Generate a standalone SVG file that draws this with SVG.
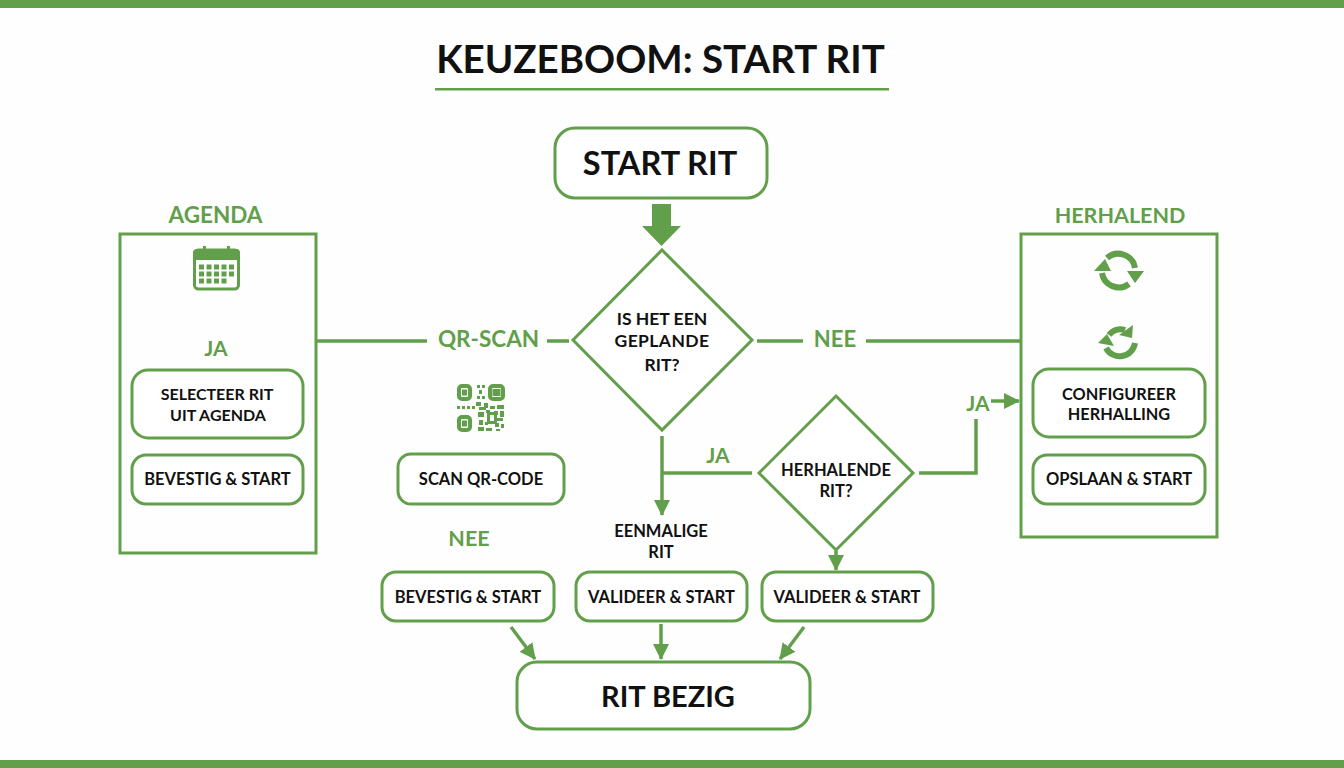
<svg xmlns="http://www.w3.org/2000/svg" width="1344" height="768" viewBox="0 0 1344 768">
<style>
text{font-family:Lato,"Liberation Sans",sans-serif;font-weight:700;text-anchor:middle}
.k{fill:#111}.g{fill:#629f4a}
.s{font-size:16.5px}.d{font-size:17.5px}.l{font-size:22.5px}
.n{fill:#fff;stroke:#629f4a;stroke-width:3}
.b{fill:none;stroke:#629f4a;stroke-width:3}
.c{fill:none;stroke:#629f4a;stroke-width:3.5}
.h{fill:#629f4a}
.q{fill:#629f4a}
.f{fill:none;stroke:#629f4a;stroke-width:4}
.r{fill:none;stroke:#629f4a;stroke-width:6}
</style>
<defs>
<marker id="a" markerUnits="userSpaceOnUse" markerWidth="18" markerHeight="16" refX="15" refY="8" orient="auto"><path d="M0 0L16 8L0 16z" fill="#629f4a"/></marker>
</defs>
<rect width="1344" height="768" fill="#fefefe"/>
<rect width="1344" height="8" fill="#629f4a"/>
<rect y="760" width="1344" height="8" fill="#629f4a"/>
<g id="title"><text x="660.500" y="73" font-size="38.500" class="k">KEUZEBOOM: START RIT</text><rect x="435" y="88" width="454" height="2.5" fill="#629f4a"/></g>
<g id="connectors">
<path class="c" d="M317 341H427M547 341H569M757 341H803M866 341H1021"/>
<path class="h" d="M652 204H671V226H681L661.500 246L642 226H652z"/>
<path class="c" d="M662 436V515" marker-end="url(#a)"/>
<path class="c" d="M663 473H752"/>
<path class="c" d="M919 473H976V419"/>
<path class="c" d="M991 401H1019" marker-end="url(#a)"/>
<path class="c" d="M836 551V570" marker-end="url(#a)"/>
<path class="c" d="M511 627L535 659" marker-end="url(#a)"/>
<path class="c" d="M661 624V659" marker-end="url(#a)"/>
<path class="c" d="M804 627L780 659" marker-end="url(#a)"/>
</g>
<g id="start"><rect class="n" x="555" y="128" width="212" height="70" rx="20"/><text x="660" y="175" font-size="32.500" class="k">START RIT</text></g>
<g id="agenda">
<text x="215.500" y="223" class="g" font-size="22.500">AGENDA</text>
<rect class="b" x="120" y="234" width="196" height="319"/>
<g id="calendar-icon"><rect x="194.500" y="250" width="44" height="39" rx="4" fill="#fff" stroke="#629f4a" stroke-width="3"/><path class="h" d="M193 253a4 4 0 0 1 4-4h6v-3h3v3h21v-3h3v3h6a4 4 0 0 1 4 4v7h-47z"/>
<path class="h" d="M199 264.500h5v5h-5zM206.500 264.500h5v5h-5zM214 264.500h5v5h-5zM221.500 264.500h5v5h-5zM229 264.500h5v5h-5zM199 271.500h5v5h-5zM206.500 271.500h5v5h-5zM214 271.500h5v5h-5zM221.500 271.500h5v5h-5zM229 271.500h5v5h-5zM199 278.500h5v5h-5zM206.500 278.500h5v5h-5zM214 278.500h5v5h-5zM221.500 278.500h5v5h-5z"/></g>
<text x="216" y="356" font-size="21" class="g">JA</text>
</g>
<g id="selecteer"><rect class="n" x="132" y="370" width="171" height="68" rx="16"/><text x="217" y="400" font-size="16" class="k">SELECTEER RIT</text><text x="218" y="421" font-size="16" class="k">UIT AGENDA</text></g>
<g id="bevestig1"><rect class="n" x="132" y="455" width="171" height="49" rx="14"/><text x="217.500" y="485" class="k s">BEVESTIG &amp; START</text></g>
<g id="qr">
<text x="488.500" y="347" class="g l">QR-SCAN</text>
<g id="qr-icon">
<rect class="f" x="459" y="386" width="11" height="13" rx="3"/><rect x="462" y="389.500" width="5" height="6" class="q"/>
<rect class="f" x="490" y="386" width="13" height="13" rx="3"/><rect x="492.500" y="389" width="8" height="7" class="q"/>
<rect class="f" x="459" y="417" width="11" height="13" rx="3"/><rect x="462" y="420.500" width="5" height="6" class="q"/>
<path class="q" d="M477 385h3v3h-3zM482 385h3v3h-3zM479 390h3v4h-3zM477 396h3v3h-3zM482 396h3v3h-3zM457 406h3v3h-3zM462 406h3v3h-3zM467 406h3v3h-3zM472 406h3v3h-3zM476 402h5v4h-5zM479 407h7v3h-7zM484 403h4v5h-4zM490 406h5v3h-5zM497 405h7v4h-7zM478 412h6v5h-6zM500 411h4v6h-4zM486 410h4v3h-4zM494 411h4v4h-4zM479 420h4v5h-4zM485 422h3v3h-3zM497 418h6v3h-6zM495 423h4v4h-4zM478 427h6v4h-6zM501 424h3v4h-3zM486 428h6v3h-6zM496 429h4v2h-4z"/><path class="q" fill-rule="evenodd" d="M487 412h10v12h-10zM490 415v6h4v-6z"/>
</g>
</g>
<g id="scan"><rect class="n" x="398" y="454" width="166" height="50" rx="13"/><text x="481" y="485" class="k s">SCAN QR-CODE</text></g>
<text x="469" y="546" font-size="21.500" class="g">NEE</text>
<g id="bevestig2"><rect class="n" x="382" y="572" width="172" height="49" rx="14"/><text x="468" y="603" class="k s">BEVESTIG &amp; START</text></g>
<g id="decision1"><path class="n" d="M662 250L752 340L662 430L573 340z"/><text x="662" y="325" class="k d">IS HET EEN</text><text x="662" y="347" class="k d" style="letter-spacing:.4px">GEPLANDE</text><text x="662" y="371" class="k d">RIT?</text></g>
<text x="835" y="347" class="g" font-size="22">NEE</text>
<text x="718" y="463" class="g" font-size="21">JA</text>
<g id="decision2"><path class="n" d="M836 396L913 473L836 550L759 473z"/><text x="836" y="476" class="k s">HERHALENDE</text><text x="836" y="497" class="k s">RIT?</text></g>
<text x="978" y="411" class="g" font-size="21">JA</text>
<g id="eenmalig"><text x="661" y="537" class="k s">EENMALIGE</text><text x="661" y="558" class="k s">RIT</text></g>
<g id="valideer1"><rect class="n" x="576" y="572" width="171" height="49" rx="14"/><text x="661.500" y="603" class="k s">VALIDEER &amp; START</text></g>
<g id="valideer2"><rect class="n" x="762" y="572" width="171" height="49" rx="14"/><text x="847" y="603" class="k s">VALIDEER &amp; START</text></g>
<g id="herhalend">
<text x="1120" y="222.500" class="g" font-size="21.500">HERHALEND</text>
<rect class="b" x="1021" y="234" width="196" height="303"/>
<g id="cycle-icon-1"><path class="r" d="M1107 258A17 17 0 0 1 1135 268M1129 284A17 17 0 0 1 1102 273"/><path class="h" d="M1094 271L1105 259L1111 271zM1127 271H1144L1135 283z"/></g>
<g id="cycle-icon-2"><path class="r" d="M1109 335A14 14 0 0 1 1125 330M1135 343A15.500 15.500 0 0 1 1106 348"/><path class="h" d="M1133 325L1132 338L1119 335zM1098 343L1107 334L1114 346z"/></g>
</g>
<g id="configureer"><rect class="n" x="1033" y="369" width="172" height="68" rx="16"/><text x="1119" y="400" class="k" font-size="16.300">CONFIGUREER</text><text x="1119" y="420" class="k" font-size="16.300">HERHALLING</text></g>
<g id="opslaan"><rect class="n" x="1033" y="455" width="172" height="49" rx="14"/><text x="1119" y="485" class="k s">OPSLAAN &amp; START</text></g>
<g id="bezig"><rect class="n" x="517" y="662" width="293" height="67" rx="20"/><text x="668" y="707" font-size="29" class="k">RIT BEZIG</text></g>
</svg>
